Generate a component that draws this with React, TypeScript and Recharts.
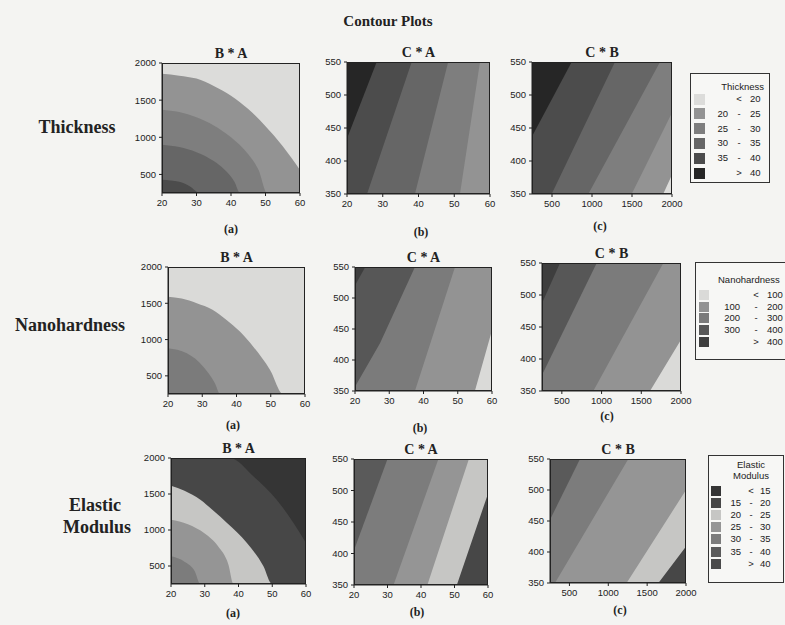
import React from "react";
import { AreaChart, Area, XAxis, YAxis } from "recharts";

type Pt = [number, number];

// axis ranges and ticks
const A_DOMAIN: Pt = [20, 60];
const B_DOMAIN: Pt = [250, 2000];
const C_DOMAIN: Pt = [350, 550];
const A_TICKS = [20, 30, 40, 50, 60];
const B_TICKS = [500, 1000, 1500, 2000];
const C_TICKS = [350, 400, 450, 500, 550];

// Thickness contour boundaries
const TH_BA_20: Pt[] = [[20, 1856], [25, 1830], [30, 1790], [35, 1690], [40, 1560], [45, 1380], [50, 1150], [55, 880], [60, 560]];
const TH_BA_25: Pt[] = [[20, 1372], [25, 1340], [30, 1270], [35, 1160], [40, 1000], [45, 770], [48, 560], [50.5, 250], [60, 250]];
const TH_BA_30: Pt[] = [[20, 901], [25, 870], [30, 800], [35, 680], [38, 570], [41, 400], [42.6, 250], [60, 250]];
const TH_BA_35: Pt[] = [[20, 430], [25, 400], [28, 340], [31, 250], [60, 250]];

const TH_CA_35: Pt[] = [[20, 434], [28.3, 550], [60, 550]];
const TH_CA_30: Pt[] = [[20, 350], [25.6, 350], [38.1, 550], [60, 550]];
const TH_CA_25: Pt[] = [[20, 350], [39, 350], [48.3, 550], [60, 550]];
const TH_CA_20: Pt[] = [[20, 350], [51.6, 350], [57.2, 550], [60, 550]];

const TH_CB_35: Pt[] = [[250, 437], [746, 550], [2000, 550]];
const TH_CB_30: Pt[] = [[250, 350], [496, 350], [1287, 550], [2000, 550]];
const TH_CB_25: Pt[] = [[250, 350], [954, 350], [1850, 550], [2000, 550]];
const TH_CB_20: Pt[] = [[250, 350], [1496, 350], [2000, 473]];
const TH_CB_LT: Pt[] = [[250, 350], [1890, 350], [2000, 379]];

// Nanohardness contour boundaries
const NH_BA_100: Pt[] = [[20, 1591], [24, 1565], [28.4, 1500], [33, 1410], [37.1, 1270], [41, 1110], [44.9, 902], [49.8, 581], [53.6, 250], [60, 250]];
const NH_BA_200: Pt[] = [[20, 880], [25.5, 811], [30.3, 627], [33.7, 398], [35.2, 250], [60, 250]];

const NH_CA_300: Pt[] = [[20, 520], [23, 550], [60, 550]];
const NH_CA_200: Pt[] = [[20, 357], [27.3, 427], [37.5, 550], [60, 550]];
const NH_CA_100: Pt[] = [[20, 350], [37.5, 350], [49.2, 550], [60, 550]];
const NH_CA_LT: Pt[] = [[20, 350], [55, 350], [60, 448]];

const NH_CB_300: Pt[] = [[250, 487], [477, 550], [2000, 550]];
const NH_CB_200: Pt[] = [[250, 375], [939, 550], [2000, 550]];
const NH_CB_100: Pt[] = [[250, 350], [896, 350], [1778, 550], [2000, 550]];
const NH_CB_LT: Pt[] = [[250, 350], [1610, 350], [2000, 430]];

// Elastic modulus contour boundaries
const EM_BA_15: Pt[] = [[20, 2000], [37.5, 2000], [44.4, 1745], [51.3, 1421], [56.3, 1097], [60, 819]];
const EM_BA_20: Pt[] = [[20, 1616], [24, 1545], [28.7, 1421], [32.5, 1270], [36.6, 1097], [42.5, 819], [47.4, 495], [49.9, 250], [60, 250]];
const EM_BA_25: Pt[] = [[20, 1144], [25, 1080], [30, 950], [34, 770], [37, 520], [38.5, 250], [60, 250]];
const EM_BA_30: Pt[] = [[20, 634], [24, 560], [27, 430], [28.7, 250], [60, 250]];

const EM_CA_30: Pt[] = [[20, 405], [30, 550], [60, 550]];
const EM_CA_25: Pt[] = [[20, 350], [31.8, 350], [45.2, 550], [60, 550]];
const EM_CA_20: Pt[] = [[20, 350], [41.9, 350], [54.3, 550], [60, 550]];
const EM_CA_15: Pt[] = [[20, 350], [50.7, 350], [60, 495]];

const EM_CB_30: Pt[] = [[250, 452], [636, 550], [2000, 550]];
const EM_CB_25: Pt[] = [[250, 350], [314, 350], [1258, 550], [2000, 550]];
const EM_CB_20: Pt[] = [[250, 350], [1236, 350], [2000, 500]];
const EM_CB_15: Pt[] = [[250, 350], [1645, 350], [2000, 409]];

// legend classes
const TH_LEVELS = [["", "<", "20"], ["20", "-", "25"], ["25", "-", "30"], ["30", "-", "35"], ["35", "-", "40"], ["", ">", "40"]];
const TH_COLORS = ["#dcdcda", "#939393", "#7e7e7e", "#666666", "#4c4c4c", "#262626"];
const NH_LEVELS = [["", "<", "100"], ["100", "-", "200"], ["200", "-", "300"], ["300", "-", "400"], ["", ">", "400"]];
const NH_COLORS = ["#dadad8", "#939393", "#7b7b7b", "#575757", "#3e3e3e"];
const EM_LEVELS = [["", "<", "15"], ["15", "-", "20"], ["20", "-", "25"], ["25", "-", "30"], ["30", "-", "35"], ["35", "-", "40"], ["", ">", "40"]];
const EM_COLORS = ["#353535", "#474747", "#c6c6c4", "#959595", "#7c7c7c", "#5a5a5a", "#4a4a4a"];

const [TH_LT20, TH_20, TH_25, TH_30, TH_35, TH_GT40] = TH_COLORS;
const [NH_LT100, NH_100, NH_200, NH_300, NH_GT400] = NH_COLORS;
const [EM_LT15, EM_15, EM_20, EM_25, EM_30, EM_35] = EM_COLORS;

type Band = { pts: Pt[]; fill: string };
type PlotDef = {
  x: number; y: number; w: number; h: number;
  xDom: Pt; yDom: Pt; xTicks: number[]; yTicks: number[];
  bg: string; bands: Band[]; curve: "monotone" | "linear";
  title: string; sub: string; subX: number; subY: number;
};

const PLOTS: PlotDef[] = [
  { x: 162, y: 63, w: 138, h: 130, xDom: A_DOMAIN, yDom: B_DOMAIN, xTicks: A_TICKS, yTicks: B_TICKS, bg: TH_LT20, curve: "monotone",
    bands: [{ pts: TH_BA_20, fill: TH_20 }, { pts: TH_BA_25, fill: TH_25 }, { pts: TH_BA_30, fill: TH_30 }, { pts: TH_BA_35, fill: TH_35 }],
    title: "B * A", sub: "(a)", subX: 231, subY: 229 },
  { x: 347, y: 62, w: 143, h: 132, xDom: A_DOMAIN, yDom: C_DOMAIN, xTicks: A_TICKS, yTicks: C_TICKS, bg: TH_GT40, curve: "linear",
    bands: [{ pts: TH_CA_35, fill: TH_35 }, { pts: TH_CA_30, fill: TH_30 }, { pts: TH_CA_25, fill: TH_25 }, { pts: TH_CA_20, fill: TH_20 }],
    title: "C * A", sub: "(b)", subX: 421, subY: 232 },
  { x: 532, y: 62, w: 140, h: 132, xDom: B_DOMAIN, yDom: C_DOMAIN, xTicks: B_TICKS, yTicks: C_TICKS, bg: TH_GT40, curve: "linear",
    bands: [{ pts: TH_CB_35, fill: TH_35 }, { pts: TH_CB_30, fill: TH_30 }, { pts: TH_CB_25, fill: TH_25 }, { pts: TH_CB_20, fill: TH_20 }, { pts: TH_CB_LT, fill: TH_LT20 }],
    title: "C * B", sub: "(c)", subX: 600, subY: 226 },

  { x: 168, y: 267, w: 137, h: 127, xDom: A_DOMAIN, yDom: B_DOMAIN, xTicks: A_TICKS, yTicks: B_TICKS, bg: NH_LT100, curve: "monotone",
    bands: [{ pts: NH_BA_100, fill: NH_100 }, { pts: NH_BA_200, fill: NH_200 }],
    title: "B * A", sub: "(a)", subX: 233, subY: 425 },
  { x: 355, y: 267, w: 137, h: 124, xDom: A_DOMAIN, yDom: C_DOMAIN, xTicks: A_TICKS, yTicks: C_TICKS, bg: NH_GT400, curve: "linear",
    bands: [{ pts: NH_CA_300, fill: NH_300 }, { pts: NH_CA_200, fill: NH_200 }, { pts: NH_CA_100, fill: NH_100 }, { pts: NH_CA_LT, fill: NH_LT100 }],
    title: "C * A", sub: "(b)", subX: 420, subY: 428 },
  { x: 542, y: 263, w: 139, h: 128, xDom: B_DOMAIN, yDom: C_DOMAIN, xTicks: B_TICKS, yTicks: C_TICKS, bg: NH_GT400, curve: "linear",
    bands: [{ pts: NH_CB_300, fill: NH_300 }, { pts: NH_CB_200, fill: NH_200 }, { pts: NH_CB_100, fill: NH_100 }, { pts: NH_CB_LT, fill: NH_LT100 }],
    title: "C * B", sub: "(c)", subX: 607, subY: 416 },

  { x: 171, y: 458, w: 135, h: 126, xDom: A_DOMAIN, yDom: B_DOMAIN, xTicks: A_TICKS, yTicks: B_TICKS, bg: EM_LT15, curve: "monotone",
    bands: [{ pts: EM_BA_15, fill: EM_15 }, { pts: EM_BA_20, fill: EM_20 }, { pts: EM_BA_25, fill: EM_25 }, { pts: EM_BA_30, fill: EM_30 }],
    title: "B * A", sub: "(a)", subX: 233, subY: 613 },
  { x: 354, y: 459, w: 134, h: 126, xDom: A_DOMAIN, yDom: C_DOMAIN, xTicks: A_TICKS, yTicks: C_TICKS, bg: EM_35, curve: "linear",
    bands: [{ pts: EM_CA_30, fill: EM_30 }, { pts: EM_CA_25, fill: EM_25 }, { pts: EM_CA_20, fill: EM_20 }, { pts: EM_CA_15, fill: EM_15 }],
    title: "C * A", sub: "(b)", subX: 417, subY: 612 },
  { x: 550, y: 459, w: 136, h: 124, xDom: B_DOMAIN, yDom: C_DOMAIN, xTicks: B_TICKS, yTicks: C_TICKS, bg: EM_35, curve: "linear",
    bands: [{ pts: EM_CB_30, fill: EM_30 }, { pts: EM_CB_25, fill: EM_25 }, { pts: EM_CB_20, fill: EM_20 }, { pts: EM_CB_15, fill: EM_15 }],
    title: "C * B", sub: "(c)", subX: 620, subY: 610 },
];

const SERIF = "'Liberation Serif', 'Times New Roman', serif";
const SANS = "'Liberation Sans', Arial, sans-serif";
const INK = "#222";

function buildRows(series: Pt[][]) {
  const xs = Array.from(new Set(series.flatMap((s) => s.map((p) => p[0])))).sort((a, b) => a - b);
  return xs.map((x) => {
    const row: Record<string, number> = { x };
    series.forEach((s, i) => {
      const p = s.find((q) => q[0] === x);
      if (p) row["s" + i] = p[1];
    });
    return row;
  });
}

function Txt({ x, y, size, bold, font, children }: any) {
  return (
    <div
      style={{
        position: "absolute", left: x, top: y, transform: "translate(-50%, -50%)",
        whiteSpace: "nowrap", fontFamily: font ?? SERIF, fontSize: size, fontWeight: bold ? 700 : 400,
        color: INK, lineHeight: 1,
      }}
    >
      {children}
    </div>
  );
}

const YW = 34;
const XH = 22;
const MT = 9;
const MR = 16;
const tickStyle = { fontSize: 9.5, fontFamily: SANS, fill: INK };

function Contour({ p }: { p: PlotDef }) {
  const full: Pt[] = [[p.xDom[0], p.yDom[1]], [p.xDom[1], p.yDom[1]]];
  const series = [full, ...p.bands.map((b) => b.pts)];
  const fills = [p.bg, ...p.bands.map((b) => b.fill)];
  const rows = buildRows(series);

  return (
    <>
      <div style={{ position: "absolute", left: p.x - YW, top: p.y - MT }}>
        <AreaChart width={YW + p.w + MR} height={MT + p.h + XH} data={rows} margin={{ top: MT, right: MR, bottom: 0, left: 0 }}>
          <XAxis
            type="number" dataKey="x" domain={p.xDom} ticks={p.xTicks} interval={0} allowDataOverflow
            height={XH} tickSize={3} tickMargin={3} tick={tickStyle}
            axisLine={{ stroke: INK }} tickLine={{ stroke: INK }}
          />
          <YAxis
            type="number" domain={p.yDom} ticks={p.yTicks} interval={0} allowDataOverflow
            width={YW} tickSize={3} tickMargin={3} tick={tickStyle}
            axisLine={{ stroke: INK }} tickLine={{ stroke: INK }}
          />
          {series.map((_, i) => (
            <Area
              key={i}
              dataKey={"s" + i}
              type={i === 0 ? "linear" : p.curve}
              baseValue={p.yDom[0]}
              connectNulls
              stroke="none"
              fill={fills[i]}
              fillOpacity={1}
              dot={false}
              activeDot={false}
              isAnimationActive={false}
            />
          ))}
        </AreaChart>
        <div
          style={{
            position: "absolute", left: YW, top: MT, width: p.w, height: p.h,
            border: "1px solid " + INK, boxSizing: "border-box", pointerEvents: "none",
          }}
        />
      </div>
      <Txt x={p.x + p.w / 2} y={p.y - 9} size={14} bold>{p.title}</Txt>
      <Txt x={p.subX} y={p.subY} size={12} bold>{p.sub}</Txt>
    </>
  );
}

type LegendDef = {
  x: number; y: number; w: number; h: number;
  title: string[]; titleX: number; titleY: number; titleStep: number; titleAlign: "left" | "right" | "center";
  levels: string[][]; colors: string[];
  rowY: number; rowStep: number; sw: number; swX: number;
  loRight: number; opX: number; hiLeft: number;
};

const LEGENDS: LegendDef[] = [
  { x: 690, y: 73, w: 80, h: 110, title: ["Thickness"], titleX: 764, titleY: 87, titleStep: 0, titleAlign: "right",
    levels: TH_LEVELS, colors: TH_COLORS, rowY: 99, rowStep: 14.8, sw: 11, swX: 694, loRight: 728, opX: 739, hiLeft: 750 },
  { x: 695, y: 262, w: 100, h: 98, title: ["Nanohardness"], titleX: 718, titleY: 280, titleStep: 0, titleAlign: "left",
    levels: NH_LEVELS, colors: NH_COLORS, rowY: 295, rowStep: 11.7, sw: 10, swX: 699, loRight: 740, opX: 756, hiLeft: 767 },
  { x: 708, y: 455, w: 76, h: 128, title: ["Elastic", "Modulus"], titleX: 751, titleY: 465, titleStep: 11, titleAlign: "center",
    levels: EM_LEVELS, colors: EM_COLORS, rowY: 491, rowStep: 12.1, sw: 10, swX: 711, loRight: 741, opX: 751, hiLeft: 760 },
];

function LegendBox({ l }: { l: LegendDef }) {
  const t = { position: "absolute" as const, fontFamily: SANS, fontSize: 9.5, color: INK, lineHeight: 1, whiteSpace: "nowrap" as const };
  return (
    <>
      <div style={{ position: "absolute", left: l.x, top: l.y, width: l.w, height: l.h, border: "1px solid #333", boxSizing: "border-box", background: "#f7f7f5" }} />
      {l.title.map((s, i) => {
        const y = l.titleY + i * l.titleStep;
        const tr = l.titleAlign === "right" ? "translate(-100%, -50%)" : l.titleAlign === "center" ? "translate(-50%, -50%)" : "translate(0, -50%)";
        return <div key={s} style={{ ...t, left: l.titleX, top: y, transform: tr }}>{s}</div>;
      })}
      {l.levels.map((lv, i) => {
        const y = l.rowY + i * l.rowStep;
        return (
          <React.Fragment key={i}>
            <div style={{ position: "absolute", left: l.swX, top: y - l.sw / 2, width: l.sw, height: l.sw, background: l.colors[i] }} />
            <div style={{ ...t, left: l.loRight, top: y, transform: "translate(-100%, -50%)" }}>{lv[0]}</div>
            <div style={{ ...t, left: l.opX, top: y, transform: "translate(-50%, -50%)" }}>{lv[1]}</div>
            <div style={{ ...t, left: l.hiLeft, top: y, transform: "translate(0, -50%)" }}>{lv[2]}</div>
          </React.Fragment>
        );
      })}
    </>
  );
}

export default function App() {
  return (
    <div style={{ position: "absolute", left: 0, top: 0, width: 785, height: 625, overflow: "hidden", background: "#f4f4f2" }}>
      <Txt x={388} y={21} size={15} bold>Contour Plots</Txt>
      <Txt x={77} y={127} size={18} bold>Thickness</Txt>
      <Txt x={70} y={325} size={18} bold>Nanohardness</Txt>
      <Txt x={95} y={505} size={18} bold>Elastic</Txt>
      <Txt x={97} y={527} size={18} bold>Modulus</Txt>
      {PLOTS.map((p, i) => (
        <Contour key={i} p={p} />
      ))}
      {LEGENDS.map((l, i) => (
        <LegendBox key={i} l={l} />
      ))}
    </div>
  );
}
